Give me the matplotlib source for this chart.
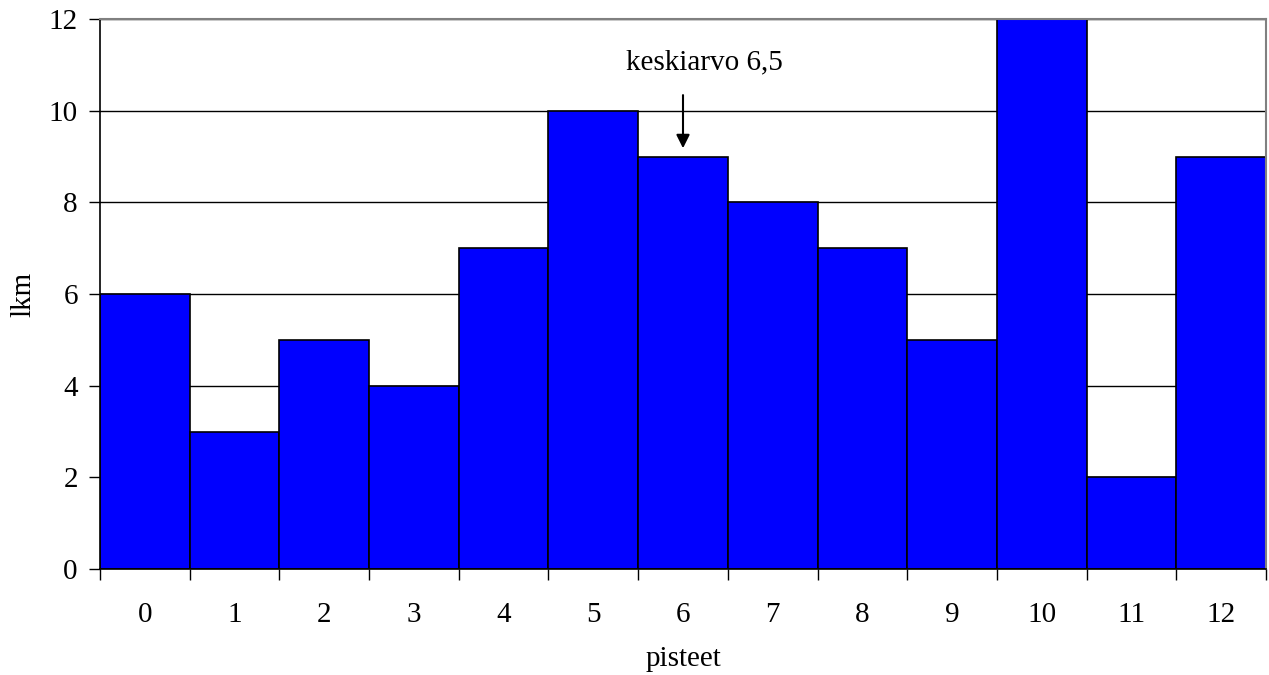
import matplotlib
matplotlib.use("Agg")
import matplotlib.pyplot as plt
import numpy as np

categories = ["0", "1", "2", "3", "4", "5", "6", "7", "8", "9", "10", "11", "12"]
counts = [6, 3, 5, 4, 7, 10, 9, 8, 7, 5, 12, 2, 9]
y_ticks = [0, 2, 4, 6, 8, 10, 12]
annotation_text = "keskiarvo 6,5"

plt.rcParams['font.family'] = ['Liberation Serif', 'DejaVu Serif']

fig = plt.figure(figsize=(12.69, 6.75), dpi=100)
ax = fig.add_axes([100/1269, 1 - 569/675, (1266-100)/1269, (569-19)/675])

x = np.arange(len(categories))
ax.set_axisbelow(True)
ax.yaxis.grid(True, color='black', linewidth=1)
ax.bar(x, counts, width=1.0, color='#0000FF', edgecolor='black', linewidth=1.2, zorder=2)

ax.set_xlim(-0.5, len(categories) - 0.5)
ax.set_ylim(0, 12)
ax.set_yticks(y_ticks)
ax.set_yticklabels([str(v) for v in y_ticks], fontsize=21)

ax.set_xticks(x)
ax.set_xticklabels(categories, fontsize=21)
ax.tick_params(axis='x', which='major', length=0, pad=24)
ax.set_xticks(np.arange(-0.5, len(categories), 1.0), minor=True)
ax.tick_params(axis='x', which='minor', length=8, width=1, color='black', direction='out')
ax.tick_params(axis='y', length=8, width=1, direction='out', pad=8)

for s in ['top', 'right']:
    ax.spines[s].set_color('#808080')
    ax.spines[s].set_linewidth(1.5)
for s in ['left', 'bottom']:
    ax.spines[s].set_color('black')
    ax.spines[s].set_linewidth(1.2)

ax.set_ylabel("lkm", fontsize=21, labelpad=9)
ax.set_xlabel("pisteet", fontsize=21, labelpad=13)

ax.annotate("", xy=(6, 9.12), xytext=(6, 10.4),
            arrowprops=dict(arrowstyle='-|>', color='black', lw=1.5, mutation_scale=20))
ax.text(6.24, 11.06, annotation_text, fontsize=21, ha='center', va='center')

fig.savefig("out.png", dpi=100)
